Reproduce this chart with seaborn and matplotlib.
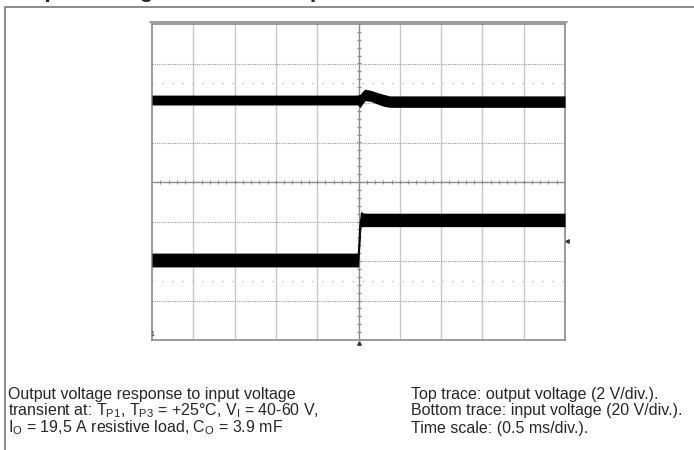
import numpy as np
import matplotlib.pyplot as plt
import seaborn as sns

# time axis in ms (0.5 ms/div, 10 div), y axis in screen divisions (0..8)
t_top = [0.0, 2.49, 2.52, 2.55, 2.58, 2.65, 2.72, 2.80, 2.88, 5.0]
top_upper = [6.20, 6.20, 6.22, 6.30, 6.35, 6.32, 6.27, 6.22, 6.18, 6.18]
top_lower = [5.95, 5.95, 5.88, 5.98, 6.06, 6.04, 5.98, 5.92, 5.89, 5.89]

t_bot = [0.0, 2.49, 2.50, 2.53, 2.55, 2.60, 5.0]
bot_upper = [2.20, 2.20, 2.20, 3.27, 3.22, 3.21, 3.21]
bot_lower = [1.85, 1.85, 1.85, 2.86, 2.87, 2.87, 2.87]

edge_t = [2.49, 2.50, 2.52, 2.54]
edge_v = [2.02, 2.10, 2.90, 3.20]

caption_left = ["Output voltage response to input voltage",
                "transient at: T$_{P1}$, T$_{P3}$ = +25°C, V$_{I}$ = 40-60 V,",
                "I$_{O}$ = 19,5 A resistive load, C$_{O}$ = 3.9 mF"]
caption_right = ["Top trace: output voltage (2 V/div.).",
                 "Bottom trace: input voltage (20 V/div.).",
                 "Time scale: (0.5 ms/div.)."]
title = "Output voltage transient response"

sns.set_theme(style="white")
plt.rcParams['font.family'] = ['Liberation Sans', 'DejaVu Sans']
plt.rcParams['mathtext.default'] = 'regular'

W, H = 694, 450
fig = plt.figure(figsize=(W / 100, H / 100), dpi=100)
fig.set_facecolor("w")

# outer frame of the figure block
fig.add_artist(plt.Line2D([5 / W, 1], [1 - 7 / H, 1 - 7 / H], color="#8a8a8a", lw=1.4))
fig.add_artist(plt.Line2D([5 / W, 5 / W], [0, 1 - 7 / H], color="#8a8a8a", lw=1.4))
fig.add_artist(plt.Line2D([150 / W, 567 / W], [1 - 22 / H, 1 - 22 / H], color="#8a8a8a", lw=1.2))

ax = fig.add_axes([152 / W, 1 - 340 / H, 413 / W, 316 / H])
ax.set_xlim(0, 5)
ax.set_ylim(0, 8)
ax.set_xticks([])
ax.set_yticks([])
for s in ax.spines.values():
    s.set_color("#8a8a8a")
    s.set_linewidth(1.2)

# grid
for x in np.arange(0.5, 5, 0.5):
    if x != 2.5:
        ax.axvline(x, color="#c8c8c8", lw=1.0, zorder=1)
for y in range(1, 8):
    if y != 4:
        ax.axhline(y, color="#9a9a9a", lw=0.8, ls=(0, (1, 1)), zorder=1)
for y in [1.5, 6.5]:
    ax.axhline(y, color="#b0b0b0", lw=0.9, ls=(0, (1, 7)), zorder=1)
ax.axvline(2.5, color="#8a8a8a", lw=1.0, zorder=1)
ax.axhline(4, color="#8a8a8a", lw=1.0, zorder=1)
ax.plot(np.arange(0.1, 5, 0.1), np.full(49, 4.0), ls="none", marker="|", ms=3, mew=0.8, color="#8a8a8a")
ax.plot(np.full(39, 2.5), np.arange(0.2, 8, 0.2), ls="none", marker="_", ms=3, mew=0.8, color="#8a8a8a")

# traces
ax.fill_between(t_top, top_lower, top_upper, color="black", lw=0, zorder=3)
ax.fill_between(t_bot, bot_lower, bot_upper, color="black", lw=0, zorder=3)
sns.lineplot(x=edge_t, y=edge_v, color="black", lw=1.2, ax=ax, zorder=3)

# small scope markers
ax.text(0.0, 0.05, "1", fontsize=5, ha="center", va="bottom", color="#333333")
ax.plot([2.5], [-0.08], marker="^", ms=2.5, color="#333333", clip_on=False)
ax.plot([5.03], [2.5], marker="<", ms=2.5, color="#333333", clip_on=False)

# captions
for i, line in enumerate(caption_left):
    fig.text(8 / W, 1 - (394 + 17 * i) / H, line, fontsize=11.5, va="center", ha="left")
for i, line in enumerate(caption_right):
    fig.text(411 / W, 1 - (394 + 17 * i) / H, line, fontsize=11.5, va="center", ha="left")

fig.text(5 / W, 1 + 2.5 / H, title, fontsize=16.5, fontweight="bold", va="baseline", ha="left")

fig.savefig("out.png", dpi=100)
